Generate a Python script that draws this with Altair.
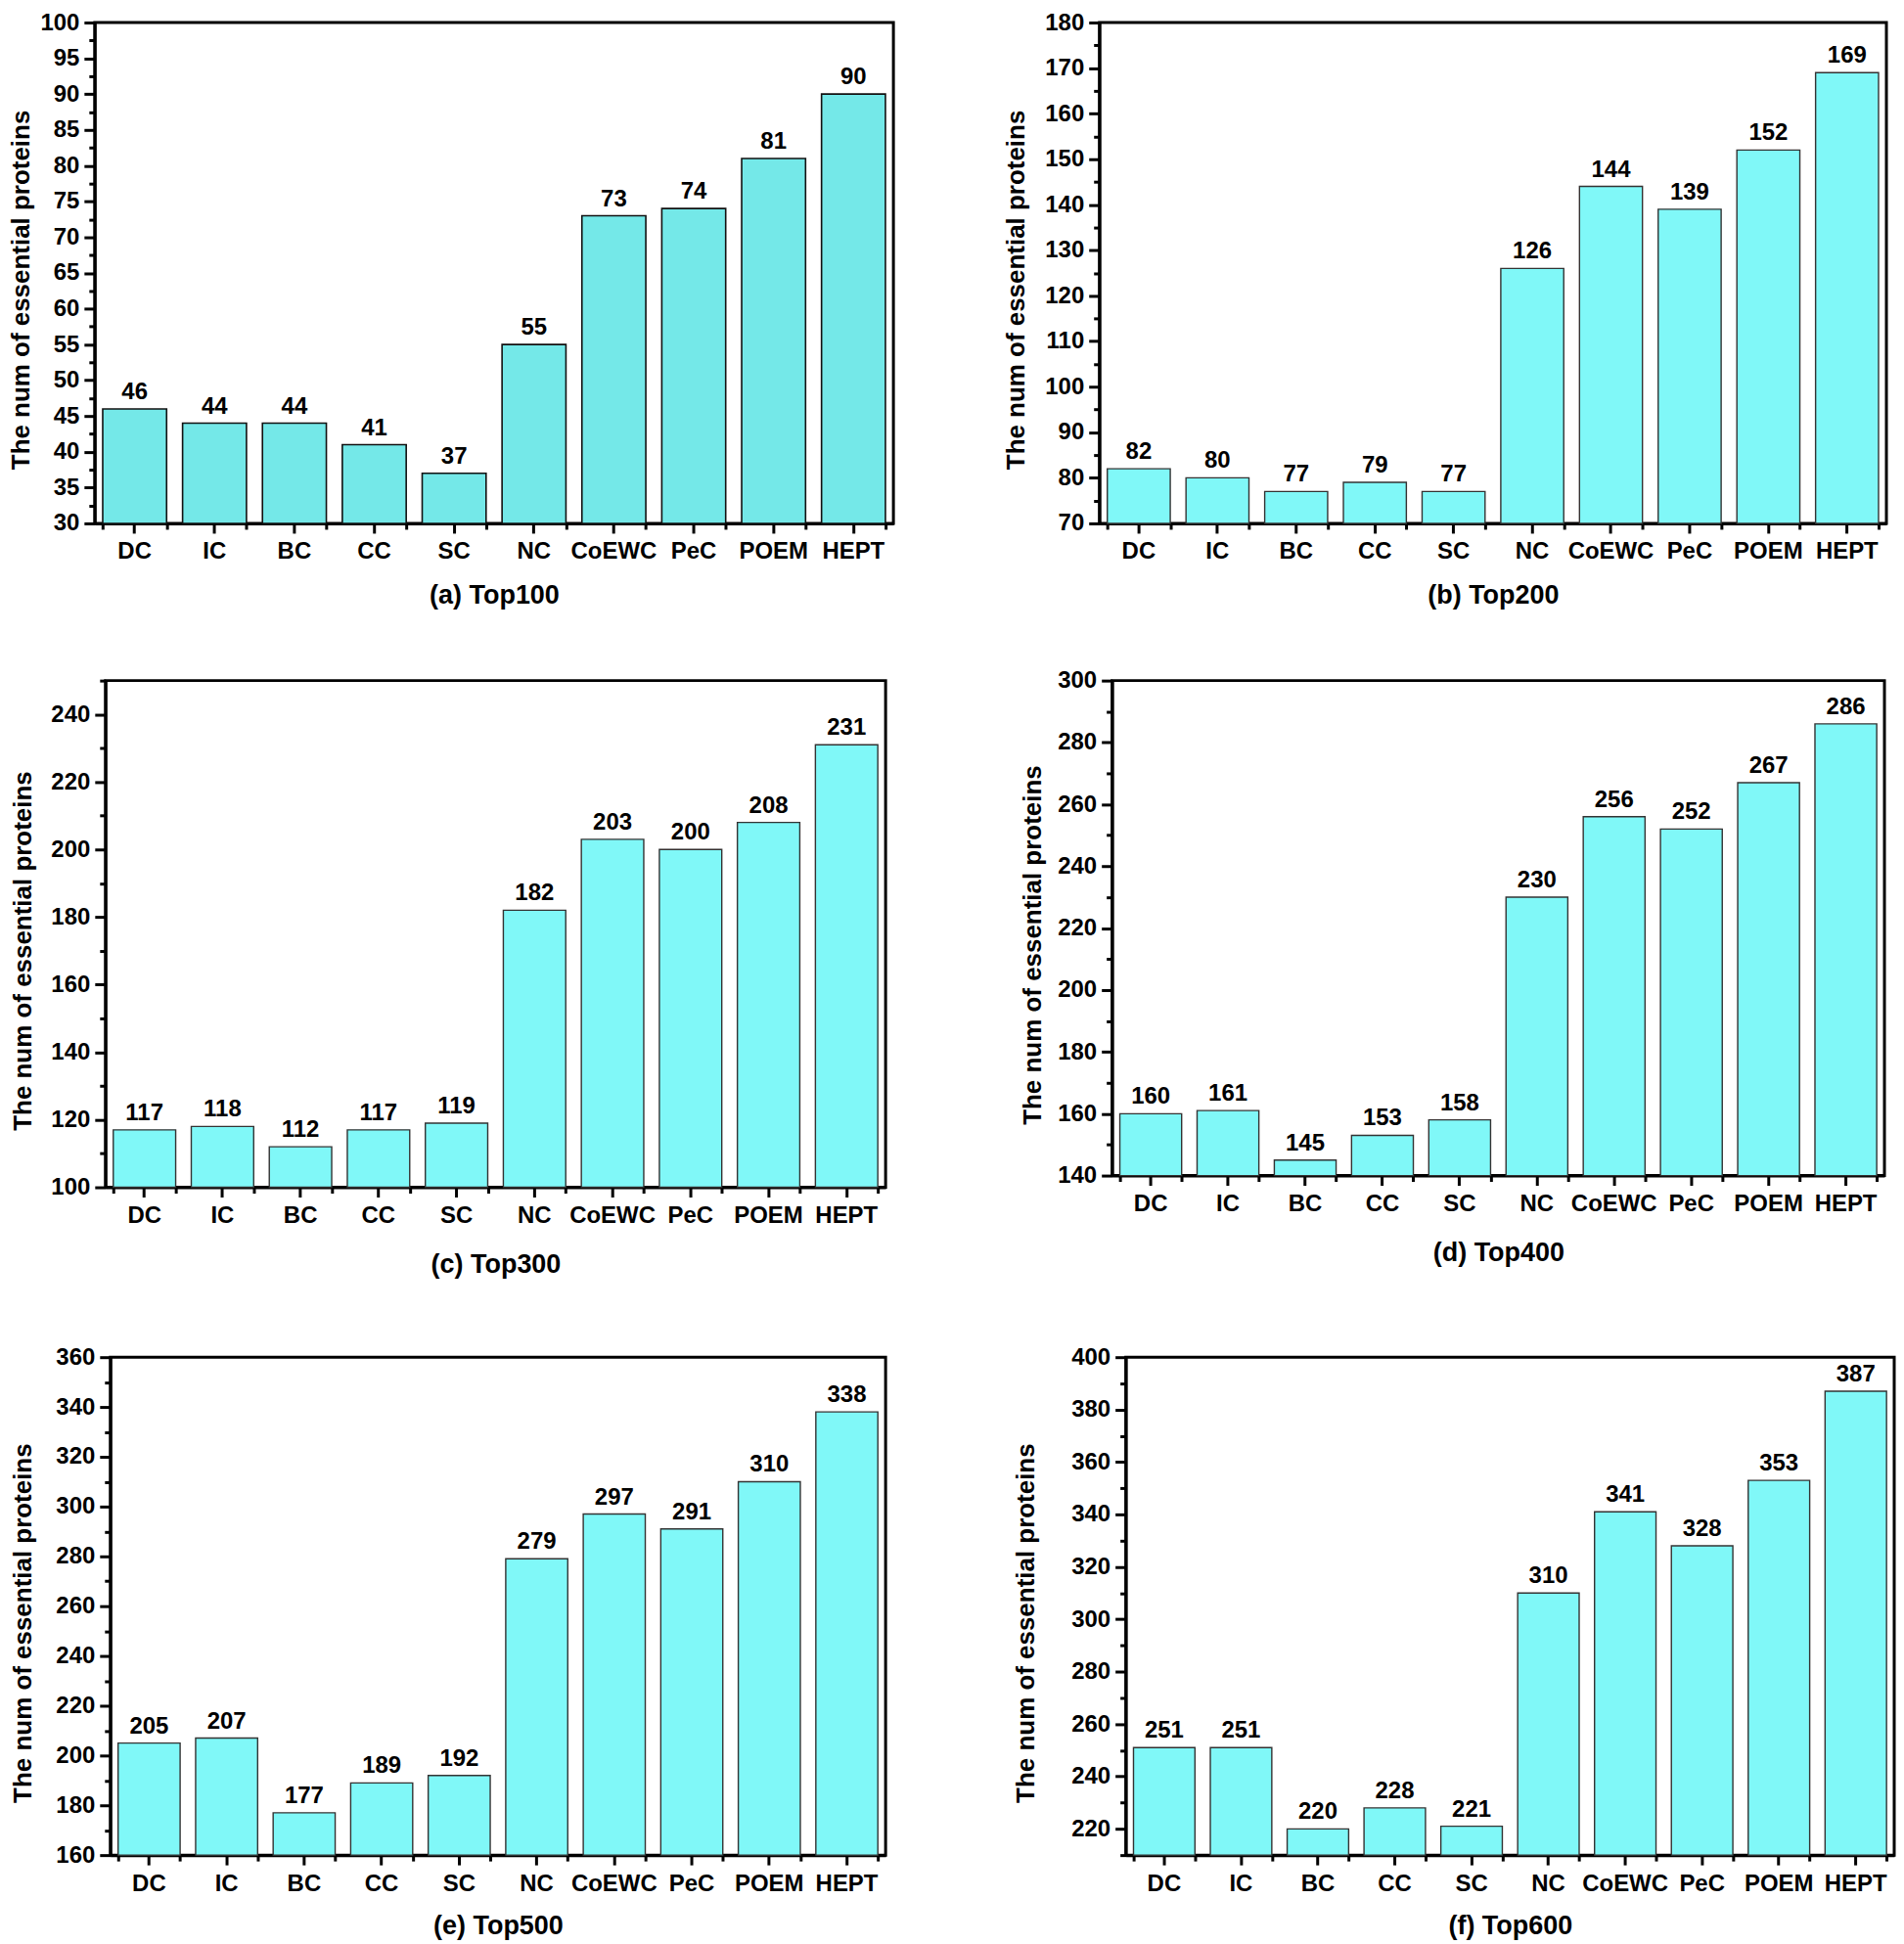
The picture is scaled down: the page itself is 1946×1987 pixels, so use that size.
import altair as alt
import pandas as pd

FONT = "Liberation Sans"

methods = ["DC", "IC", "BC", "CC", "SC", "NC", "CoEWC", "PeC", "POEM", "HEPT"]

top100 = [46, 44, 44, 41, 37, 55, 73, 74, 81, 90]
top200 = [82, 80, 77, 79, 77, 126, 144, 139, 152, 169]
top300 = [117, 118, 112, 117, 119, 182, 203, 200, 208, 231]
top400 = [160, 161, 145, 153, 158, 230, 256, 252, 267, 286]
top500 = [205, 207, 177, 189, 192, 279, 297, 291, 310, 338]
top600 = [251, 251, 220, 228, 221, 310, 341, 328, 353, 387]

ticks100 = [30, 35, 40, 45, 50, 55, 60, 65, 70, 75, 80, 85, 90, 95, 100]
ticks200 = [70, 80, 90, 100, 110, 120, 130, 140, 150, 160, 170, 180]
ticks300 = [100, 120, 140, 160, 180, 200, 220, 240]
ticks400 = [140, 160, 180, 200, 220, 240, 260, 280, 300]
ticks500 = [160, 180, 200, 220, 240, 260, 280, 300, 320, 340, 360]
ticks600 = [220, 240, 260, 280, 300, 320, 340, 360, 380, 400]

panels = [
    dict(label="(a) Top100", vals=top100, majors=ticks100, dom=[30, 100], w=818, h=513, tx=-75,
         fill="#74e8e8", stroke="#111111", sw=1.6, ty=74, extra=0),
    dict(label="(b) Top200", vals=top200, majors=ticks200, dom=[70, 180], w=806, h=513, tx=-85,
         fill="#80f8f8", stroke="#333333", sw=1.4, ty=74, extra=0),
    dict(label="(c) Top300", vals=top300, majors=ticks300, dom=[100, 250], w=799, h=519, tx=-84,
         fill="#80f8f8", stroke="#333333", sw=1.4, ty=75, extra=8),
    dict(label="(d) Top400", vals=top400, majors=ticks400, dom=[140, 300], w=791, h=507, tx=-81,
         fill="#80f8f8", stroke="#333333", sw=1.4, ty=75, extra=8),
    dict(label="(e) Top500", vals=top500, majors=ticks500, dom=[160, 360], w=794, h=510, tx=-89,
         fill="#80f8f8", stroke="#333333", sw=1.4, ty=73, extra=0),
    dict(label="(f) Top600", vals=top600, majors=ticks600, dom=[210, 400], w=787, h=510, tx=-102,
         fill="#80f8f8", stroke="#333333", sw=1.4, ty=73, extra=0),
]


def make_panel(p):
    df = pd.DataFrame({"method": methods, "value": p["vals"]})
    majors = p["majors"]
    step = majors[1] - majors[0]
    lo, hi = p["dom"]
    minors = [m + step / 2 for m in majors] + [majors[0] - step / 2]
    tick_vals = sorted(v for v in majors + minors if lo <= v <= hi)
    test = f"(datum.value - {majors[0]}) % {step} === 0"

    yscale = alt.Scale(domain=[lo, hi], zero=False, nice=False)
    xscale = alt.Scale(paddingInner=0.2, paddingOuter=0.1)

    yaxis = alt.Axis(
        values=tick_vals,
        labelExpr=f"{test} ? datum.label : ''",
        tickSize={"condition": {"test": test, "value": 11}, "value": 6},
        labelPadding=5,
        labelOverlap=False,
        grid=False,
        title="The num of essential proteins",
        titleX=p["tx"],
        titleY=p["h"] / 2 + 17,
        titleAngle=270,
        titleAlign="center",
        titleBaseline="middle",
        orient="left",
    )
    if p["extra"]:
        xtitle = [p["label"], ""]
        xkw = dict(titleLineHeight=p["extra"], titleY=p["ty"] + p["extra"] / 2)
    else:
        xtitle = p["label"]
        xkw = dict(titleY=p["ty"])
    xaxis_major = alt.Axis(
        title=xtitle,
        labelAngle=0,
        tickSize=10,
        labelPadding=7,
        titleX=p["w"] / 2,
        titleAlign="center",
        titleBaseline="middle",
        orient="bottom",
        grid=False,
        **xkw,
    )
    xaxis_minor = alt.Axis(
        tickBand="extent",
        tickSize=6,
        labels=False,
        domain=False,
        title=None,
        orient="bottom",
        grid=False,
    )

    bars = alt.Chart(df).mark_bar(
        fill=p["fill"], stroke=p["stroke"], strokeWidth=p["sw"]
    ).encode(
        x=alt.X("method:N", sort=methods, scale=xscale, axis=xaxis_major),
        y=alt.Y("value:Q", scale=yscale, axis=yaxis),
        y2=alt.datum(lo),
    )
    text = alt.Chart(df).mark_text(
        baseline="bottom", dy=-5, fontSize=24, fontWeight="bold", font=FONT, color="black"
    ).encode(
        x=alt.X("method:N", sort=methods, scale=xscale, axis=xaxis_minor),
        y=alt.Y("value:Q", scale=yscale, axis=yaxis),
        text=alt.Text("value:Q"),
    )
    return alt.layer(bars, text).resolve_axis(x="independent").properties(
        width=p["w"], height=p["h"]
    )


def spacer():
    return alt.Chart(pd.DataFrame({"v": [0]})).mark_point(opacity=0, size=0).properties(
        width=1, height=1, view=alt.ViewBackground(strokeOpacity=0, strokeWidth=0)
    )


pa, pb, pc, pd_, pe, pf = [make_panel(p) for p in panels]

row1 = alt.hconcat(spacer(), alt.hconcat(pa, pb, spacing=109), spacing=5)
row2 = alt.hconcat(spacer(), alt.hconcat(pc, pd_, spacing=134), spacing=7)
row3 = alt.hconcat(spacer(), alt.hconcat(pe, pf, spacing=127), spacing=7)

chart = alt.concat(row1, row2, row3, columns=1, spacing=58, align="none").properties(
    padding={"left": -7, "top": -1, "right": 0, "bottom": 0}, background="white"
).configure_view(
    stroke="black", strokeWidth=3
).configure_axis(
    labelFont=FONT, titleFont=FONT, labelFontSize=24, labelFontWeight="bold",
    titleFontSize=26, titleFontWeight="bold", labelColor="black", titleColor="black",
    domainColor="black", tickColor="black", domainWidth=3, tickWidth=3, grid=False,
).configure_axisX(
    titleFontSize=27
)

chart.save("out.html", embed_options={"renderer": "svg", "actions": False})
